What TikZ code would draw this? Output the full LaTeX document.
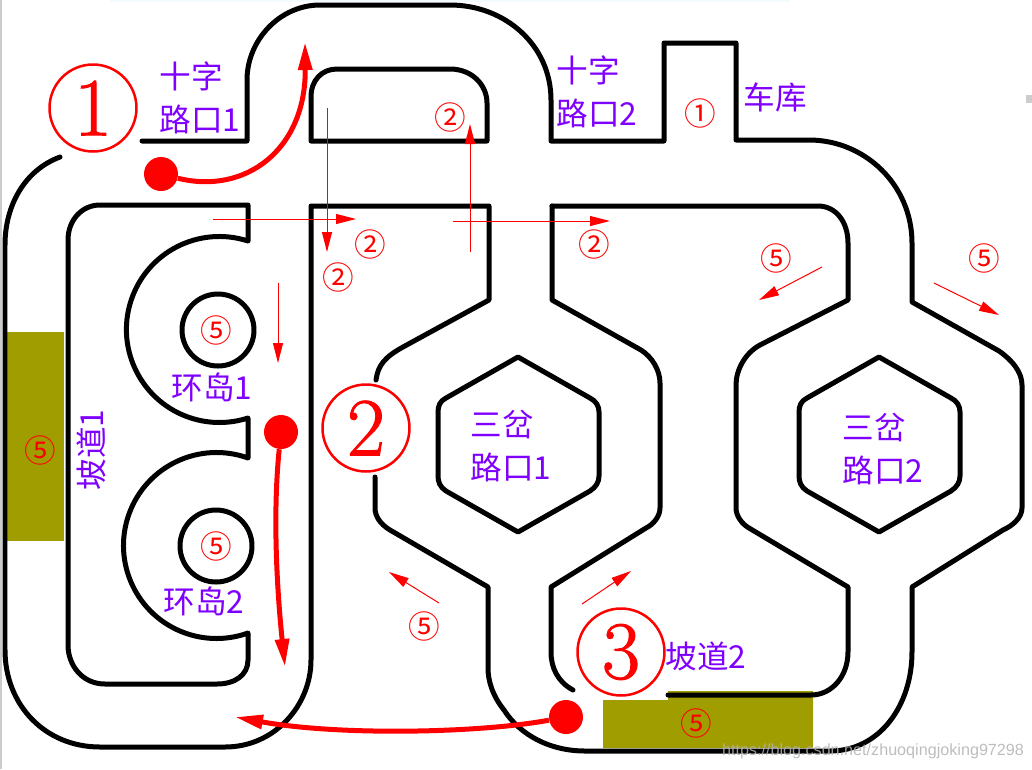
\documentclass[tikz,border=0pt]{standalone}
\usepackage{fontspec}
\newfontfamily\cjk{Noto Sans CJK SC}
\newfontfamily\wmfont{Liberation Sans}
\newfontfamily\bigdigit[FakeBold=1.2]{Latin Modern Roman}
\usetikzlibrary{arrows.meta}
\definecolor{trackolive}{HTML}{A09D00}
\definecolor{labelpurple}{HTML}{8000FF}

\begin{document}
\begin{tikzpicture}[x=0.02cm,y=-0.02cm,
    wall/.style={line width=0.1cm,line cap=round,line join=round},
    thinarrow/.style={red,line width=0.02cm,-{Triangle[length=0.4cm,width=0.2cm]}},
    thickarrow/.style={red,line width=0.1cm,-{Triangle[length=0.56cm,width=0.27cm]}},
    cardot/.style={circle,fill=red,minimum size=0.68cm,inner sep=0pt},
    biglabel/.style={circle,draw=red,text=red,line width=0.05cm,minimum size=1.74cm,inner sep=0pt,font=\bigdigit\fontsize{47}{47}\selectfont},
    smallnum/.style={text=red,inner sep=0pt,font=\cjk\fontsize{18}{18}\selectfont},
    roadlabel/.style={text=labelpurple,inner sep=0pt,align=left,font=\cjk\fontsize{18}{24.4}\selectfont}]
  \useasboundingbox (0,0) rectangle (1032,769);
  \fill[black!20] (0,0) rectangle (2,769);
  \fill[cyan!5] (110,0) rectangle (790,2);
  \fill[black!20] (1026,95) rectangle (1032,103);

  \fill[trackolive] (7,332) rectangle (64,541);
  \fill[trackolive] (603,700) -- (668,700) -- (668,691) -- (813,691) -- (813,748) -- (603,748) -- cycle;

  \draw[wall] (60,157) .. controls (25,170) and (5,205) .. (5,245) -- (5,650)
    .. controls (5,705) and (45,747) .. (100,747) -- (225,747)
    .. controls (275,747) and (311,705) .. (311,660) -- (311,206) -- (489,206) -- (489,300) -- (403,347)
    .. controls (385,357) and (378,365) .. (376,380);
  \draw[wall] (142,141) -- (247,141) -- (247,80) .. controls (247,40) and (280,5) .. (320,5) -- (450,5)
    .. controls (505,5) and (551,45) .. (551,100) -- (551,141) -- (664,141) -- (664,43) -- (736,43) -- (736,140) -- (809,140)
    .. controls (865,140) and (912,185) .. (912,243) -- (912,302) -- (999,351)
    .. controls (1012,360) and (1022,372) .. (1022,385) -- (1022,508)
    .. controls (1022,518) and (1012,526) .. (1003,530) -- (912,587) -- (912,652)
    .. controls (912,705) and (880,751) .. (830,751) -- (585,751)
    .. controls (550,751) and (520,735) .. (504,710) .. controls (492,695) and (488,680) .. (488,668)
    -- (488,587) -- (390,530) .. controls (380,524) and (375,516) .. (375,508) -- (375,477);
  \draw[wall] (311,141) -- (311,97) .. controls (311,80) and (322,69) .. (337,69) -- (450,69)
    .. controls (472,69) and (487,85) .. (487,103) -- (487,141) -- cycle;
  \draw[wall] (248,205) -- (248,241) arc[start angle=-72.1,end angle=-287.9,radius=93] -- (248,458)
    arc[start angle=-70.2,end angle=-289.8,radius=93] -- (248,660)
    .. controls (248,675) and (235,684) .. (217,684) -- (105,684)
    .. controls (82,684) and (68,665) .. (68,645) -- (68,240)
    .. controls (68,220) and (82,205) .. (100,205) -- cycle;
  \draw[wall] (552,206) -- (818,206) .. controls (836,206) and (848,222) .. (848,243) -- (848,300) -- (760,345)
    .. controls (745,353) and (736,370) .. (736,385) -- (736,508)
    .. controls (736,516) and (742,524) .. (749,528) -- (848,587) -- (848,652)
    .. controls (848,676) and (832,695) .. (811,695) -- (668,695);
  \draw[wall] (552,206) -- (552,300) -- (641,350) .. controls (652,357) and (660,370) .. (660,383) -- (660,508)
    .. controls (660,516) and (654,524) .. (646,528) -- (551,587) -- (551,652)
    .. controls (551,668) and (558,682) .. (573,690);
  \foreach \cx in {518,879} {
    \draw[wall] (\cx,357) -- (\cx+72,398) .. controls (\cx+78,401) and (\cx+81,406) .. (\cx+81,412) -- (\cx+81,476)
      .. controls (\cx+81,482) and (\cx+78,487) .. (\cx+72,491) -- (\cx,532) -- (\cx-72,491)
      .. controls (\cx-78,487) and (\cx-80,482) .. (\cx-80,476) -- (\cx-80,412)
      .. controls (\cx-80,406) and (\cx-78,401) .. (\cx-72,398) -- cycle;
  }
  \draw[wall] (218,330) circle[radius=36];
  \draw[wall] (216,546) circle[radius=36];

  \foreach \a/\b/\c/\d in {213/219/356/219,327/108/327/252,470/252/470/124,453/221/610/221,278/283/278/363,
      822/267/759/300,934/283/999/315,439/603/389/572,582/604/631/571} {
    \coordinate (from) at (\a,\b);
    \coordinate (to) at (\c,\d);
    \draw[thinarrow] (from) -- (to);
  }

  \node[cardot] (dotA) at (161,174) {};
  \node[cardot] (dotB) at (281,432) {};
  \node[cardot] (dotC) at (566,717) {};
  \coordinate (endA) at (305,42);
  \coordinate (endB) at (285,667);
  \coordinate (endC) at (235,717);
  \draw[thickarrow] (dotA) .. controls (245,195) and (306,150) .. (endA);
  \draw[thickarrow] (dotB) .. controls (272,520) and (278,600) .. (endB);
  \draw[thickarrow] (dotC) .. controls (480,733) and (340,736) .. (endC);

  \node[biglabel] (bigA) at (93,108) {1};
  \node[biglabel] (bigB) at (366,428) {2};
  \node[biglabel] (bigC) at (621,652) {3};

  \foreach \x/\y/\t in {450/117/②,370/244/②,338/277/②,594/244/②,700/113/①,776/258/⑤,984/258/⑤,
      216/330/⑤,216/546/⑤,40/450/⑤,424/626/⑤,696/723/⑤} {
    \node[smallnum] (num\x) at (\x,\y) {\t};
  }

  \node[roadlabel] (crossA) at (200,98) {十字\\路口1};
  \node[roadlabel] (crossB) at (597,92) {十字\\路口2};
  \node[roadlabel] (garage) at (775,97) {车库};
  \node[roadlabel] (forkA) at (511,446) {三岔\\路口1};
  \node[roadlabel] (forkB) at (883,449) {三岔\\路口2};
  \node[roadlabel] (ringA) at (212,387) {环岛1};
  \node[roadlabel] (ringB) at (204,601) {环岛2};
  \node[roadlabel,rotate=90] (rampA) at (91,450) {坡道1};
  \node[roadlabel] (rampB) at (706,656) {坡道2};

  \node[text=black!30,opacity=0.85,inner sep=0pt,font=\wmfont\fontsize{9.2}{9.2}\selectfont] (mark) at (873,751) {https://blog.csdn.net/zhuoqingjoking97298};
\end{tikzpicture}
\end{document}
